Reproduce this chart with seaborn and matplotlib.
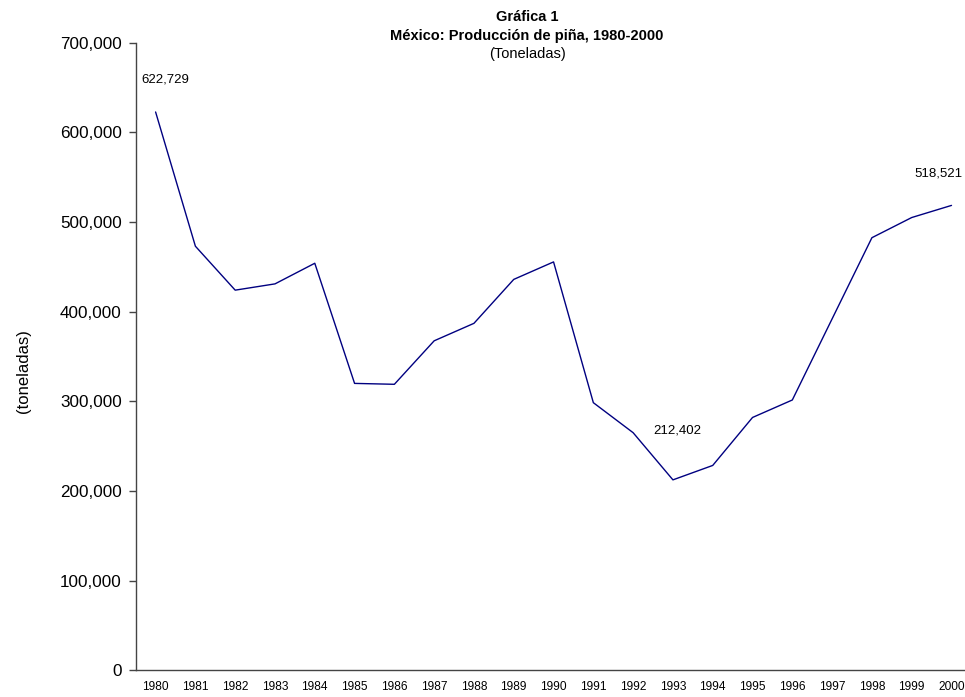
import matplotlib
matplotlib.use("Agg")
import matplotlib.pyplot as plt
import seaborn as sns
import pandas as pd
from matplotlib.ticker import FuncFormatter, FixedLocator

years = list(range(1980, 2001))
production = [622729, 473000, 424000, 431000, 454000, 320000, 319000, 367500,
              387000, 436000, 455500, 298500, 265000, 212402, 228500, 282000,
              301500, 392000, 482500, 505000, 518521]
labeled_years = [1980, 1993, 2000]
title_lines = ["Gráfica 1", "México: Producción de piña, 1980-2000", "(Toneladas)"]
y_label = "(toneladas)"

df = pd.DataFrame({"year": years, "prod": production})

sns.set_style("white")
plt.rcParams["font.family"] = ["Liberation Sans", "DejaVu Sans"]
plt.rcParams["text.color"] = "#000000"

fig = plt.figure(figsize=(9.65, 6.97), dpi=100)
ax = fig.add_axes([135.7 / 965, 1 - 670.3 / 697, (971.4 - 135.7) / 965, (670.3 - 42.7) / 697])

sns.lineplot(data=df, x="year", y="prod", ax=ax, color="#000080", linewidth=1.0)

ax.set_xlim(1979.5, 2000.5)
ax.set_ylim(0, 700000)
ax.set_yticks(range(0, 700001, 100000))
ax.yaxis.set_major_formatter(FuncFormatter(lambda v, p: f"{int(v):,}"))
ax.set_xticks(years)
ax.set_xticklabels([str(y) for y in years])
ax.xaxis.set_minor_locator(FixedLocator([y - 0.5 for y in years] + [2000.5]))
ax.tick_params(axis="x", which="major", length=0, pad=8, labelsize=8.6, colors="#000000")
ax.tick_params(axis="x", which="minor", length=4, width=1.0, color="#444444", direction="out")
ax.tick_params(axis="y", which="major", length=5, width=1.0, color="#444444", pad=5,
               labelsize=12.3, labelcolor="#000000", left=True)
ax.set_xlabel("")
ax.set_ylabel("")

for s in ["top", "right"]:
    ax.spines[s].set_visible(False)
for s in ["left", "bottom"]:
    ax.spines[s].set_color("#444444")
    ax.spines[s].set_linewidth(1.0)

offsets = {1980: (10, 32), 1993: (4, 49), 2000: (-13, 32)}
for yr, val in zip(years, production):
    if yr in labeled_years:
        dx, dy = offsets[yr]
        ax.annotate(f"{val:,}", xy=(yr, val), xytext=(dx, dy), textcoords="offset pixels",
                    ha="center", va="center", fontsize=9.5, color="#000000")

fig.text(527 / 965, 1 - 17 / 697, title_lines[0], ha="center", va="center",
         fontsize=10.5, fontweight="bold", color="#000000")
fig.text(527 / 965, 1 - 36 / 697, title_lines[1], ha="center", va="center",
         fontsize=10.5, fontweight="bold", color="#000000")
fig.text(527 / 965, 1 - 54 / 697, title_lines[2], ha="center", va="center",
         fontsize=10.5, color="#000000")
fig.text(24 / 965, 1 - 371 / 697, y_label, ha="center", va="center",
         rotation=90, fontsize=12, color="#000000")

fig.savefig("out.png", dpi=100)
